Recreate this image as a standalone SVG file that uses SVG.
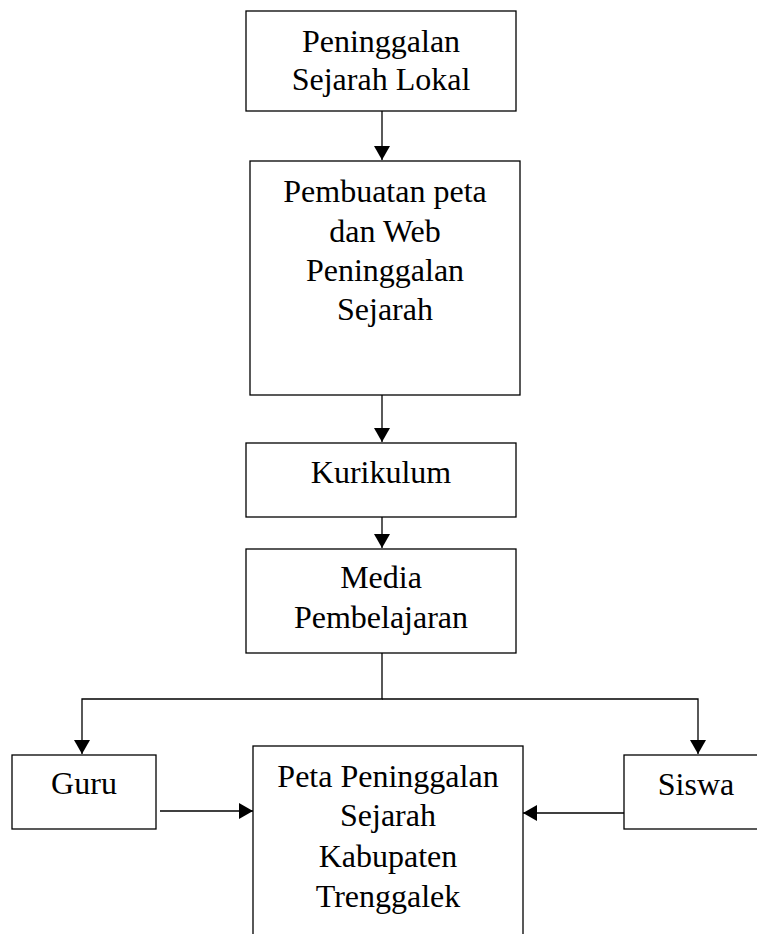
<svg xmlns="http://www.w3.org/2000/svg" width="757" height="934" viewBox="0 0 757 934">
<style>
rect{fill:#fff;stroke:#000;stroke-width:1.3}
text{font-family:"Liberation Serif","Times New Roman",serif;font-size:32px;fill:#000;text-anchor:middle}
.c{fill:none;stroke:#000;stroke-width:1.3}
</style>
<defs>
<marker id="ah" markerWidth="10" markerHeight="10" refX="10" refY="5" orient="auto" markerUnits="userSpaceOnUse" viewBox="0 0 10 10">
<path d="M0,0 L10,5 L0,10 Z" fill="#000"/>
</marker>
<marker id="a" markerWidth="14" markerHeight="16" refX="14" refY="8" orient="auto" markerUnits="userSpaceOnUse" viewBox="0 0 14 16">
<path d="M0,0 L14,8 L0,16 Z" fill="#000"/>
</marker>
</defs>
<g id="connectors">
<line class="c" x1="382" y1="111" x2="382" y2="160" marker-end="url(#a)"/>
<line class="c" x1="382" y1="395" x2="382" y2="442" marker-end="url(#a)"/>
<line class="c" x1="382" y1="517" x2="382" y2="548" marker-end="url(#a)"/>
<polyline class="c" points="382,653 382,699 82,699 82,754" marker-end="url(#a)"/>
<polyline class="c" points="382,699 698,699 698,754" marker-end="url(#a)"/>
<line class="c" x1="160" y1="811" x2="253" y2="811" marker-end="url(#a)"/>
<line class="c" x1="624" y1="813" x2="523" y2="813" marker-end="url(#a)"/>
</g>
<g id="n1">
<rect x="246" y="11" width="270" height="100"/>
<text x="381" y="52">Peninggalan</text>
<text x="381" y="90">Sejarah Lokal</text>
</g>
<g id="n2">
<rect x="250" y="161" width="270" height="234"/>
<text x="385" y="202">Pembuatan peta</text>
<text x="385" y="242">dan Web</text>
<text x="385" y="281">Peninggalan</text>
<text x="385" y="320">Sejarah</text>
</g>
<g id="n3">
<rect x="246" y="443" width="270" height="74"/>
<text x="381" y="483">Kurikulum</text>
</g>
<g id="n4">
<rect x="246" y="549" width="270" height="104"/>
<text x="381" y="588">Media</text>
<text x="381" y="628">Pembelajaran</text>
</g>
<g id="guru">
<rect x="12" y="755" width="144" height="74"/>
<text x="84" y="794">Guru</text>
</g>
<g id="siswa">
<rect x="624" y="755" width="150" height="74"/>
<text x="696" y="795">Siswa</text>
</g>
<g id="peta">
<rect x="253" y="746" width="270" height="200"/>
<text x="388" y="787">Peta Peninggalan</text>
<text x="388" y="826">Sejarah</text>
<text x="388" y="867">Kabupaten</text>
<text x="388" y="907">Trenggalek</text>
</g>
</svg>
